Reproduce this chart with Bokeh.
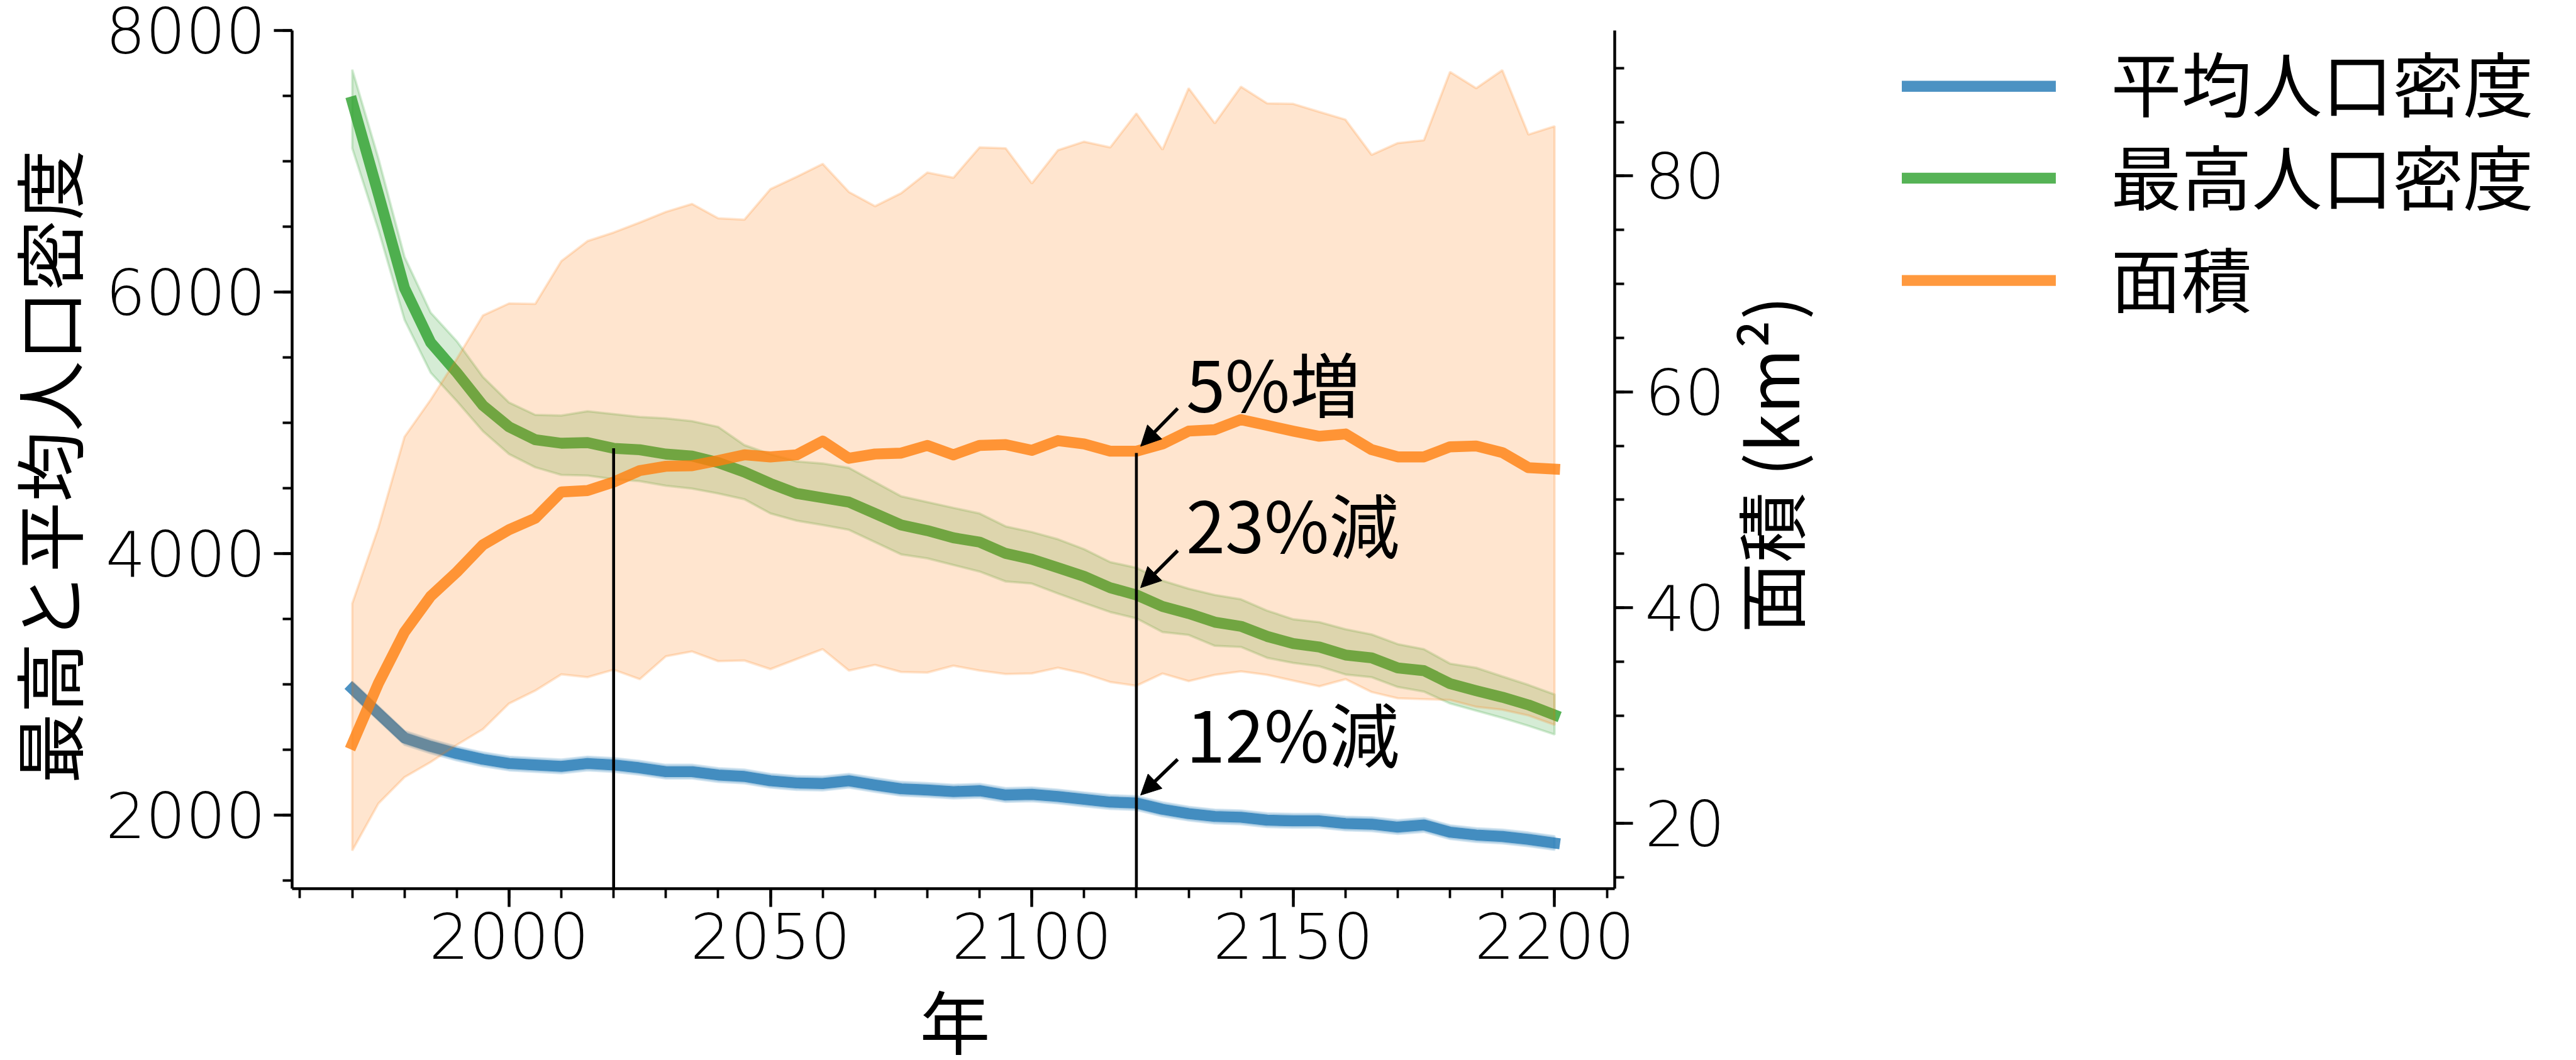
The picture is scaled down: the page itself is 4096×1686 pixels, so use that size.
import math
from bokeh.plotting import figure
from bokeh.layouts import row, column
from bokeh.models import (Range1d, LinearAxis, SingleIntervalTicker, Label, Arrow, NormalHead)
from bokeh.embed import file_html
from bokeh.resources import INLINE

# ---------------- data ----------------
years = list(range(1970, 2201, 5))

mean_density = [2967, 2779, 2591, 2526, 2471, 2427, 2395, 2384, 2373, 2395, 2384, 2362, 2333, 2333, 2307,
                2296, 2263, 2246, 2242, 2263, 2231, 2202, 2193, 2180, 2187, 2154, 2159, 2143, 2121, 2100,
                2093, 2045, 2012, 1990, 1984, 1962, 1957, 1957, 1936, 1931, 1909, 1925, 1870, 1848, 1837,
                1815, 1787]
mean_hi = [3020, 2832, 2643, 2578, 2523, 2479, 2447, 2436, 2425, 2447, 2436, 2414, 2385, 2385, 2359,
           2348, 2315, 2298, 2294, 2315, 2283, 2254, 2245, 2232, 2239, 2206, 2211, 2195, 2173, 2152,
           2145, 2097, 2064, 2042, 2036, 2014, 2009, 2009, 1988, 1983, 1961, 1977, 1922, 1900, 1889,
           1867, 1839]
mean_lo = [2915, 2727, 2539, 2474, 2419, 2375, 2343, 2332, 2321, 2343, 2332, 2310, 2281, 2281, 2255,
           2244, 2211, 2194, 2190, 2211, 2179, 2150, 2141, 2128, 2135, 2102, 2107, 2091, 2069, 2048,
           2041, 1993, 1960, 1938, 1932, 1910, 1905, 1905, 1884, 1879, 1857, 1873, 1818, 1796, 1785,
           1763, 1735]

max_density = [7454, 6750, 6030, 5614, 5384, 5133, 4969, 4871, 4844, 4849, 4805, 4794, 4761, 4746, 4696,
               4624, 4536, 4460, 4427, 4394, 4307, 4219, 4176, 4121, 4088, 4001, 3957, 3892, 3826, 3739,
               3684, 3596, 3542, 3476, 3444, 3367, 3312, 3286, 3225, 3203, 3126, 3105, 3006, 2952, 2902,
               2843, 2766]
max_hi = [7701, 7023, 6269, 5843, 5624, 5351, 5155, 5061, 5056, 5089, 5067, 5045, 5034, 5013, 4969,
          4830, 4760, 4705, 4689, 4656, 4547, 4438, 4394, 4350, 4307, 4208, 4165, 4110, 4034, 3935,
          3892, 3793, 3732, 3684, 3651, 3564, 3498, 3476, 3422, 3382, 3308, 3269, 3159, 3127, 3061,
          2996, 2923]
max_lo = [7100, 6477, 5788, 5384, 5166, 4936, 4761, 4660, 4602, 4597, 4569, 4554, 4519, 4497, 4460,
          4416, 4307, 4252, 4219, 4182, 4088, 3994, 3964, 3913, 3863, 3787, 3771, 3695, 3623, 3553,
          3505, 3400, 3378, 3295, 3286, 3203, 3164, 3138, 3076, 3055, 2980, 2945, 2854, 2799, 2744,
          2683, 2617]

area = [27.36, 32.98, 37.74, 41.05, 43.30, 45.82, 47.22, 48.28, 50.72, 50.85, 51.64, 52.70, 53.10, 53.15, 53.63,
        54.16, 53.97, 54.16, 55.43, 53.84, 54.24, 54.32, 55.03, 54.16, 55.03, 55.11, 54.58, 55.48, 55.17, 54.50,
        54.50, 55.17, 56.36, 56.49, 57.42, 56.89, 56.36, 55.88, 56.09, 54.64, 53.97, 53.97, 54.90, 54.98, 54.37,
        52.97, 52.84]
area_hi = [40.39, 47.41, 55.83, 59.27, 63.06, 67.08, 68.19, 68.14, 72.11, 73.97, 74.76, 75.69, 76.67, 77.41, 76.08,
           75.95, 78.79, 79.92, 81.12, 78.52, 77.20, 78.41, 80.32, 79.84, 82.65, 82.57, 79.31, 82.39, 83.18, 82.65,
           85.80, 82.44, 88.13, 84.88, 88.27, 86.73, 86.68, 85.94, 85.22, 81.96, 83.05, 83.31, 89.64, 88.13, 89.80,
           83.84, 84.61]
area_lo = [17.49, 21.85, 24.29, 25.69, 27.28, 28.74, 31.12, 32.31, 33.82, 33.56, 34.25, 33.37, 35.49, 35.94, 35.04,
           35.10, 34.30, 35.23, 36.15, 34.17, 34.70, 34.04, 33.98, 34.62, 34.17, 33.85, 33.90, 34.43, 33.90, 33.11,
           32.76, 33.90, 33.19, 33.77, 34.09, 33.77, 33.24, 32.71, 33.37, 32.18, 31.60, 31.52, 31.44, 30.81, 30.54,
           30.01, 29.14]

marker_years = [2020, 2120]
marker_tops = [4805, 4770]

legend_labels = ["平均人口密度", "最高人口密度", "面積"]
note_texts = ["5%増", "23%減", "12%減"]
x_label = "年"
y_label = "最高と平均人口密度"
y2_label = "面積 (km²)"

# ---------------- style ----------------
BLUE, GREEN, ORANGE = "#1f77b4", "#2ca02c", "#ff7f0e"
CJK = "Noto Sans CJK JP"
CJK_PX = 112
CJK_SIZE = f"{CJK_PX}px"
CJK_DROP = 47          # rendered CJK text sits this many px lower than its nominal baseline
TICK_FONT = "DejaVu Sans"
TICK_SIZE = "100px"
LW = 17.4
EDGE_W = 3.8

FRAME_W, FRAME_H = 2103, 1365
H1 = 1568
X_RANGE = (1958.5, 2211.5)
Y_RANGE = (1438, 8000)
Y2_RANGE = (13.96, 93.48)

# ---------------- main plot ----------------
p = figure(width=314 + FRAME_W + 178, height=H1,
           x_range=Range1d(*X_RANGE), y_range=Range1d(*Y_RANGE),
           output_backend="svg", toolbar_location=None,
           min_border_left=314, min_border_right=178, min_border_top=48, min_border_bottom=155)
p.extra_y_ranges = {"area": Range1d(*Y2_RANGE)}
p.grid.visible = False
p.outline_line_color = None

p.xaxis.ticker = SingleIntervalTicker(interval=50, num_minor_ticks=5)
p.yaxis.ticker = SingleIntervalTicker(interval=2000, num_minor_ticks=4)
right_axis = LinearAxis(y_range_name="area", ticker=SingleIntervalTicker(interval=20, num_minor_ticks=4))
p.add_layout(right_axis, "right")

for ax in [p.xaxis[0], p.yaxis[0], right_axis]:
    ax.axis_line_width = 4.5
    ax.axis_line_color = "black"
    ax.major_tick_line_width = 4.5
    ax.minor_tick_line_width = 3.8
    ax.major_tick_out = 29
    ax.major_tick_in = 0
    ax.minor_tick_out = 15
    ax.minor_tick_in = 0
    ax.major_label_text_font = TICK_FONT
    ax.major_label_text_font_size = TICK_SIZE
    ax.major_label_text_color = "black"
p.yaxis[0].major_label_standoff = 13
p.xaxis[0].major_label_standoff = 9
right_axis.major_label_standoff = 19

# left-axis series
p.patch(years + years[::-1], mean_hi + mean_lo[::-1], fill_color=BLUE, fill_alpha=0.2,
        line_color=BLUE, line_alpha=0.2, line_width=EDGE_W)
p.line(years, mean_density, line_color=BLUE, line_alpha=0.8, line_width=LW,
       line_join="round", line_cap="square")
p.patch(years + years[::-1], max_hi + max_lo[::-1], fill_color=GREEN, fill_alpha=0.2,
        line_color=GREEN, line_alpha=0.2, line_width=EDGE_W)
p.line(years, max_density, line_color=GREEN, line_alpha=0.8, line_width=LW,
       line_join="round", line_cap="square")

# right-axis series
p.patch(years + years[::-1], area_hi + area_lo[::-1], fill_color=ORANGE, fill_alpha=0.2,
        line_color=ORANGE, line_alpha=0.2, line_width=EDGE_W, y_range_name="area")
p.line(years, area, line_color=ORANGE, line_alpha=0.8, line_width=LW,
       line_join="round", line_cap="square", y_range_name="area")

# vertical markers
p.segment(x0=marker_years, y0=[Y_RANGE[0]] * len(marker_years), x1=marker_years, y1=marker_tops,
          line_color="black", line_width=4.6)

# annotations
px_per_left = FRAME_H / (Y_RANGE[1] - Y_RANGE[0])
px_per_right = FRAME_H / (Y2_RANGE[1] - Y2_RANGE[0])
i2120 = years.index(2120)
text_x = 2129.5
tail_x = 2127.9
tip_dx = 0.8
notes = [
    (note_texts[0], 58.2 + CJK_DROP / px_per_right, 58.46, area[i2120] + 0.45, "area"),
    (note_texts[1], 4010 + CJK_DROP / px_per_left, 4023, max_density[i2120] + 55, "default"),
    (note_texts[2], 2410 + CJK_DROP / px_per_left, 2427, mean_density[i2120] + 60, "default"),
]
for txt, ty, tail_y, tip_y, rng in notes:
    p.add_layout(Label(x=text_x, y=ty, text=txt, y_range_name=rng, text_font=CJK,
                       text_font_size=CJK_SIZE, text_align="left", text_baseline="alphabetic",
                       text_color="black"))
    p.add_layout(Arrow(x_start=tail_x, y_start=tail_y, x_end=2120 + tip_dx, y_end=tip_y,
                       y_range_name=rng, line_color="black", line_width=5.5,
                       end=NormalHead(size=32, fill_color="black", line_color="black", line_width=1)))


def blank(width, height):
    f = figure(width=width, height=height, x_range=Range1d(0, width), y_range=Range1d(0, height),
               output_backend="svg", toolbar_location=None, x_axis_type=None, y_axis_type=None,
               min_border=0)
    f.outline_line_color = None
    f.grid.visible = False
    return f


def cjk_label(fig, x, y, text, angle=0.0):
    fig.add_layout(Label(x=x, y=y, text=text, angle=angle, text_font=CJK, text_font_size=CJK_SIZE,
                         text_align="left", text_baseline="alphabetic", text_color="black"))


# ---------------- left label panel ----------------
pL = blank(150, H1)
cjk_label(pL, 73.9, 192, y_label, math.pi / 2)

# ---------------- right label + legend panel ----------------
p2 = blank(1320, H1)
cjk_label(p2, 66.5, 467, y2_label, math.pi / 2)

key_x0, key_x1, key_text_x = 278.5, 523.4, 611
key_line_y = [1466, 1298.2, 1111.2]
key_text_y = [1475, 1305, 1118]
for lab, col, ly, ty in zip(legend_labels, [BLUE, GREEN, ORANGE], key_line_y, key_text_y):
    p2.segment(x0=[key_x0], y0=[ly], x1=[key_x1], y1=[ly], line_color=col, line_alpha=0.8,
               line_width=LW, line_cap="butt")
    cjk_label(p2, key_text_x, ty, lab)

# ---------------- bottom label panel ----------------
p3 = blank(2745, 110)
cjk_label(p3, 1462, 57, x_label)

layout = column(row(pL, p, p2), p3)
open("out.html", "w").write(file_html(layout, INLINE, title="chart"))
